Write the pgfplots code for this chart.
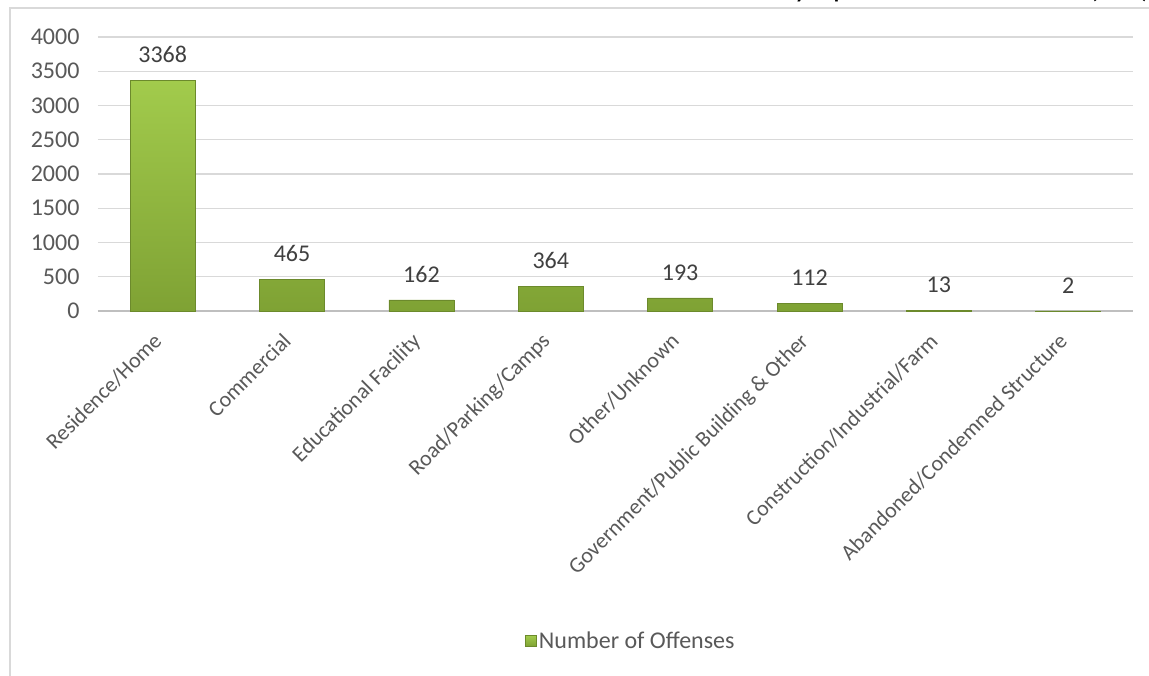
\documentclass[border=0pt]{standalone}
\usepackage{pgfplots}
\pgfplotsset{compat=1.18}
\usepackage{fontspec}
\setmainfont{Carlito}
\definecolor{tickc}{HTML}{595959}
\definecolor{valc}{HTML}{404040}
\definecolor{gridc}{HTML}{D9D9D9}
\definecolor{axc}{HTML}{BFBFBF}
\definecolor{gtop}{HTML}{A2CB4C}
\definecolor{gbot}{HTML}{7FA234}
\begin{document}
\begin{tikzpicture}
\clip (0pt,0pt) rectangle (1149pt,675pt);
\fill[white] (0pt,0pt) rectangle (1149pt,675pt);
\draw[gridc, line width=1.2pt] (10pt,-20pt) -- (10pt,667pt) -- (1170pt,667pt);
\node[anchor=base east, font=\fontsize{22}{26}\selectfont\bfseries, inner sep=0pt] at (1149pt,676pt) {Number of Offenses for the Most Commonly Reported Location of Offenses (2016)};
\begin{axis}[
  at={(98pt,364pt)}, anchor=south west,
  scale only axis, width=1035pt, height=274pt,
  xmin=-0.5, xmax=7.5, ymin=0, ymax=4000,
  ytick={0,500,...,4000},
  xtick={0,...,7},
  xticklabels={Residence/Home,Commercial,Educational Facility,Road/Parking/Camps,Other/Unknown,Government/Public Building \& Other,Construction/Industrial/Farm,Abandoned/Condemned Structure},
  /pgf/number format/assume math mode=true,
  /pgf/number format/1000 sep={},
  ymajorgrids, grid style={gridc, line width=1.2pt},
  major tick length=0pt,
  axis x line*=bottom, axis y line*=left,
  y axis line style={draw=none},
  x axis line style={axc, line width=1.2pt, -},
  yticklabel style={font=\fontsize{24}{28}\selectfont, text=tickc, xshift=-15pt},
  xticklabel style={font=\fontsize{22}{26}\selectfont, text=tickc, rotate=45, anchor=north east, inner sep=2pt, xshift=-20pt, yshift=-5pt},
  nodes near coords,
  every node near coord/.append style={font=\fontsize{24}{28}\selectfont, text=valc, anchor=south, yshift=14pt},
  legend style={at={(0.515,-1.204)}, anchor=center, draw=none, fill=none, font=\fontsize{24}{28}\selectfont, text=tickc},
  legend image code/.code={\fill[top color=gtop, bottom color=gbot] (0pt,-5.5pt) rectangle (11pt,5.5pt);},
]
\addplot[ybar, bar width=65pt, draw=gbot!85!black, line width=0.5pt, top color=gtop, bottom color=gbot] coordinates {
(0,3368) (1,465) (2,162) (3,364) (4,193) (5,112) (6,13) (7,2)
};
\addlegendentry{Number of Offenses}
\end{axis}
\end{tikzpicture}
\end{document}
